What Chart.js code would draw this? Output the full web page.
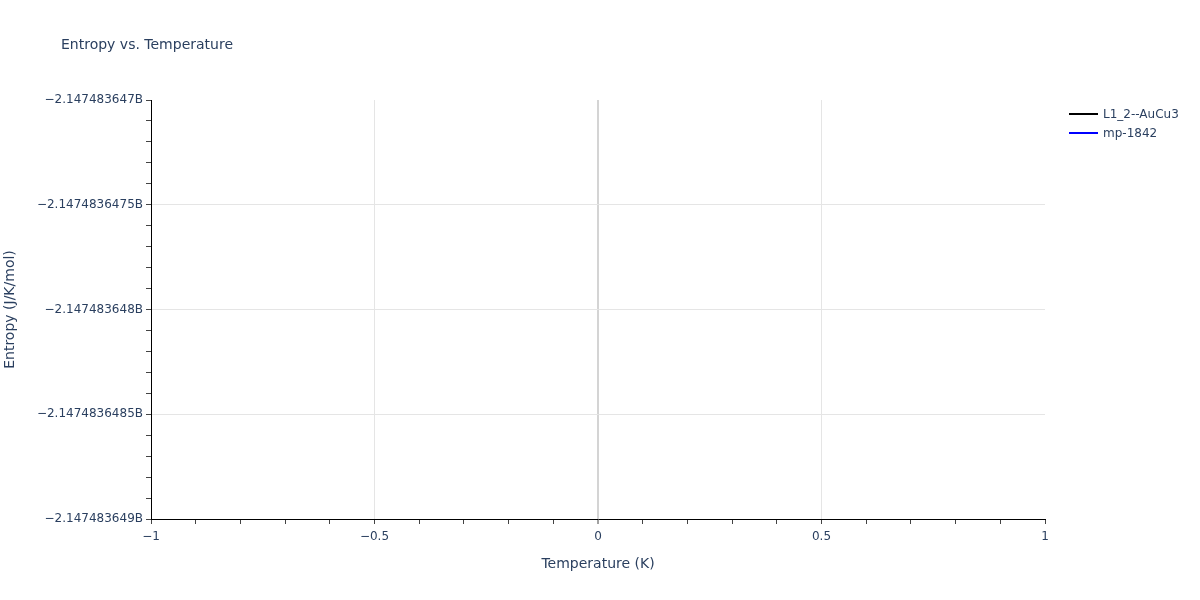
<!DOCTYPE html>
<html>
<head>
<meta charset="utf-8">
<script src="https://cdn.jsdelivr.net/npm/chart.js@4/dist/chart.umd.min.js"></script>
<style>
  html, body { margin: 0; padding: 0; background: #fff; }
  canvas { display: block; }
</style>
</head>
<body>
<canvas id="c" width="1200" height="600"></canvas>
<script>
const chartTitle = 'Entropy vs. Temperature';
const xAxisTitle = 'Temperature (K)';
const yAxisTitle = 'Entropy (J/K/mol)';

const seriesNames = ['L1_2--AuCu3', 'mp-1842'];
const seriesColors = ['#000000', '#0000ff'];
// Both series have no drawable points in the reference.
const seriesL12AuCu3 = [];
const seriesMp1842 = [];

const xMin = -1, xMax = 1, xMinorStep = 0.1;
const yMin = -2147483649, yMax = -2147483647, yMinorStep = 0.1;
const xTickLabels = ['\u22121', '\u22120.5', '0', '0.5', '1'];
const yTickLabels = ['\u22122.147483649B', '\u22122.1474836485B', '\u22122.147483648B', '\u22122.1474836475B', '\u22122.147483647B'];

const textColor = '#2a3f5f';
const fontFamily = '"DejaVu Sans", Verdana, sans-serif';

function buildTicks(min, max, step) {
  const n = Math.round((max - min) / step);
  const out = [];
  for (let i = 0; i <= n; i++) out.push({ value: min + i * step });
  return out;
}

const overlayPlugin = {
  id: 'overlay',
  afterDraw(chart) {
    const ctx = chart.ctx;
    ctx.save();
    ctx.fillStyle = textColor;
    ctx.font = '14px ' + fontFamily;
    ctx.textAlign = 'left';
    ctx.textBaseline = 'middle';
    ctx.fillText(chartTitle, 61, 45);

    ctx.font = '12px ' + fontFamily;
    chart.data.datasets.forEach((ds, i) => {
      const y = 114 + i * 19;
      ctx.strokeStyle = ds.borderColor;
      ctx.lineWidth = 2;
      ctx.beginPath();
      ctx.moveTo(1069, y);
      ctx.lineTo(1098, y);
      ctx.stroke();
      ctx.fillStyle = textColor;
      ctx.fillText(ds.label, 1103, y + 0.5);
    });
    ctx.restore();
  }
};

function gridColor(ctx, count) {
  const i = ctx.index;
  if (i === 0 || i === count - 1) return 'rgba(0,0,0,0)';
  if (i % 5 !== 0) return 'rgba(0,0,0,0)';
  if (ctx.tick && Math.abs(ctx.tick.value) < 1e-9) return '#d4d4d4';
  return '#e5e5e5';
}

new Chart(document.getElementById('c'), {
  type: 'line',
  data: {
    datasets: [
      { label: seriesNames[0], data: seriesL12AuCu3, borderColor: seriesColors[0], backgroundColor: seriesColors[0], borderWidth: 2, pointRadius: 0 },
      { label: seriesNames[1], data: seriesMp1842, borderColor: seriesColors[1], backgroundColor: seriesColors[1], borderWidth: 2, pointRadius: 0 }
    ]
  },
  options: {
    responsive: false,
    animation: false,
    devicePixelRatio: 1,
    layout: { padding: { left: 0, top: 100, right: 155, bottom: 0 } },
    plugins: { legend: { display: false }, title: { display: false }, tooltip: { enabled: false } },
    scales: {
      x: {
        type: 'linear',
        min: xMin, max: xMax,
        afterBuildTicks(scale) { scale.ticks = buildTicks(xMin, xMax, xMinorStep); },
        afterFit(scale) { scale.height = 81; },
        ticks: {
          autoSkip: false, maxRotation: 0, padding: 6,
          color: textColor, font: { family: fontFamily, size: 12 },
          callback: (v, i) => (i % 5 === 0 ? xTickLabels[i / 5] : '')
        },
        grid: {
          color: (ctx) => gridColor(ctx, 21),
          lineWidth: (ctx) => (ctx.tick && Math.abs(ctx.tick.value) < 1e-9 ? 2 : 1),
          tickColor: '#444', tickLength: 5, tickWidth: 1, drawTicks: true
        },
        border: { display: true, color: '#000', width: 1 },
        title: { display: true, text: xAxisTitle, color: textColor, font: { family: fontFamily, size: 14 }, padding: { top: 0, bottom: 27 } }
      },
      y: {
        type: 'linear',
        min: yMin, max: yMax,
        afterBuildTicks(scale) { scale.ticks = buildTicks(yMin, yMax, yMinorStep); },
        afterFit(scale) { scale.width = 151; },
        ticks: {
          autoSkip: false, padding: 3,
          color: textColor, font: { family: fontFamily, size: 12 },
          callback: (v, i) => (i % 5 === 0 ? yTickLabels[i / 5] : '')
        },
        grid: {
          color: (ctx) => { const i = ctx.index; if (i === 0 || i === 20 || i % 5 !== 0) return 'rgba(0,0,0,0)'; return '#e5e5e5'; },
          lineWidth: 1,
          tickColor: '#444', tickLength: 5, tickWidth: 1, drawTicks: true
        },
        border: { display: true, color: '#000', width: 1 },
        title: { display: true, text: yAxisTitle, color: textColor, font: { family: fontFamily, size: 14 }, padding: { top: 2, bottom: 0 } }
      }
    }
  },
  plugins: [overlayPlugin]
});
</script>
</body>
</html>
